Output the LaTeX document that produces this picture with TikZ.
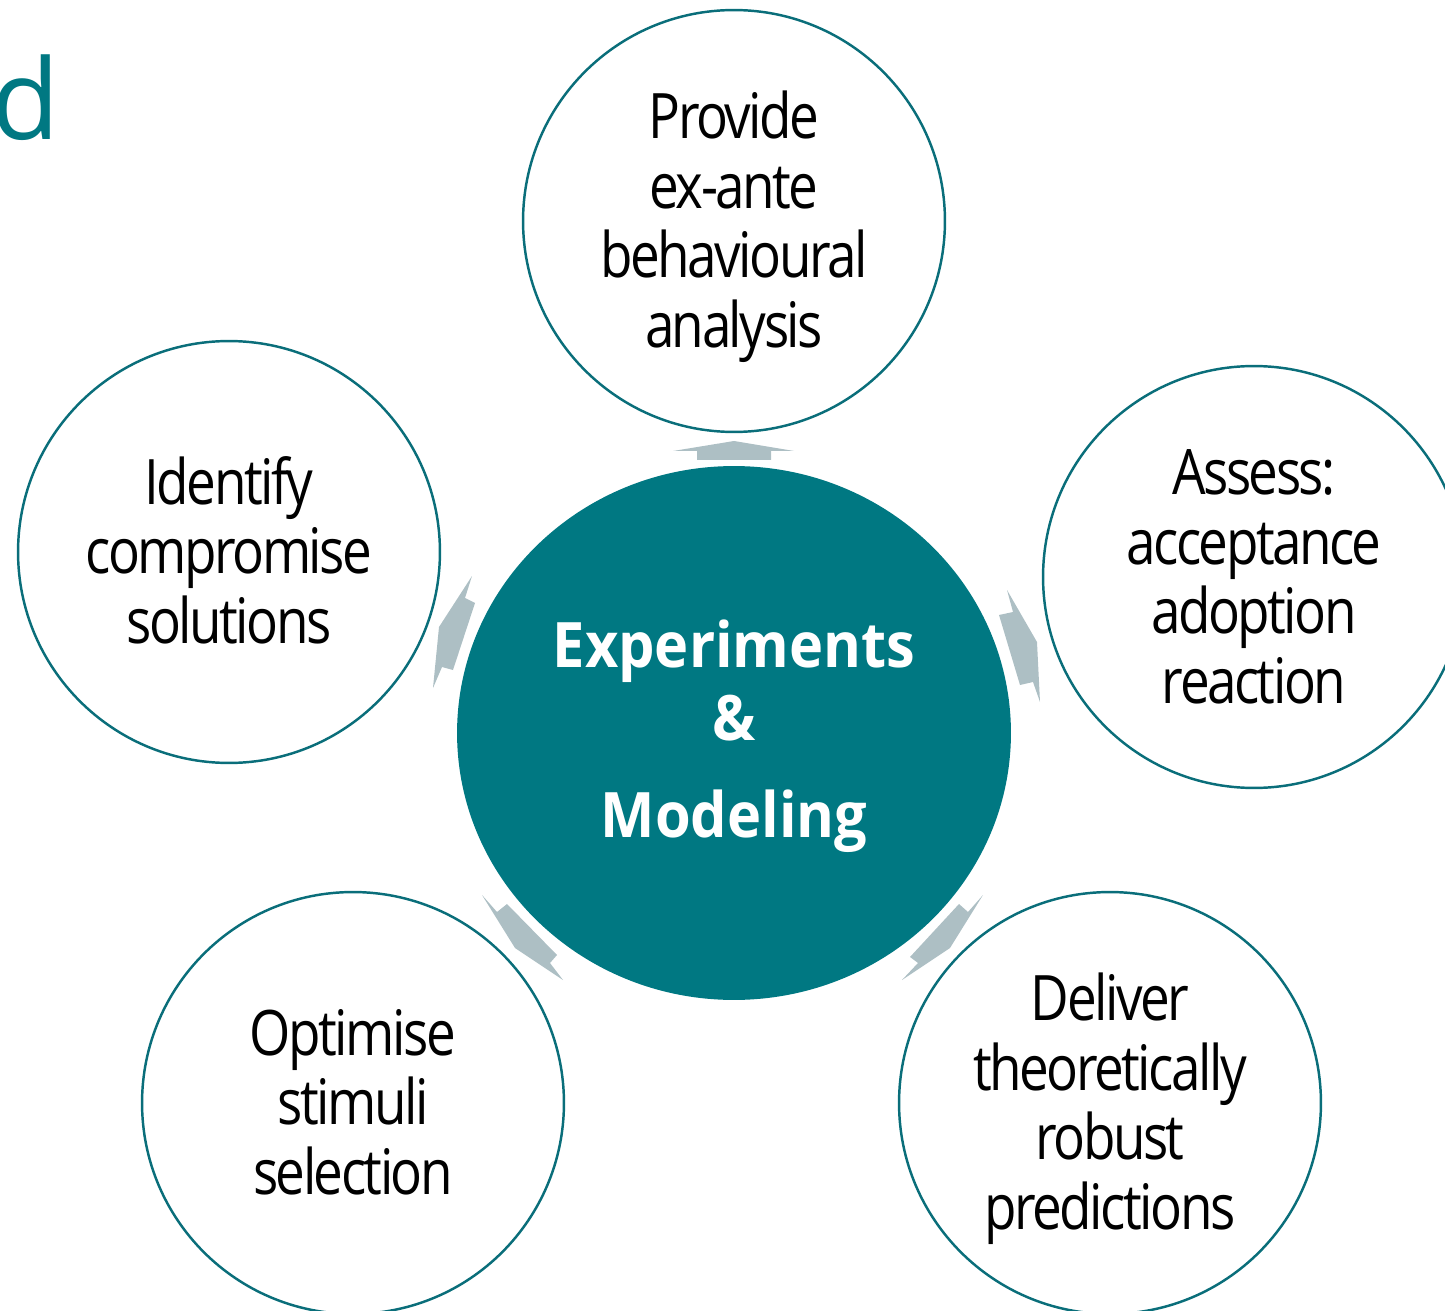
\documentclass[tikz,border=0pt]{standalone}
\usepackage{fontspec}
\setmainfont{Open Sans}
\newfontfamily\circfont[FakeStretch=0.845,LetterSpace=-4]{Open Sans}
\newfontfamily\corefont[FakeStretch=0.92]{Open Sans}
\usetikzlibrary{shapes.geometric}
\definecolor{tealA}{RGB}{0,120,130}
\definecolor{tealLine}{RGB}{10,110,122}
\definecolor{arrowgray}{RGB}{173,191,196}
\newcommand{\topstrut}{\rule{0pt}{1.2cm}}
\newcommand{\botstrut}{\rule[-0.32cm]{0pt}{0.32cm}}
\newcommand{\coretop}{\rule{0pt}{1.1cm}}
\newcommand{\corebot}{\rule[-0.32cm]{0pt}{0.32cm}}
\tikzset{
  outer/.style={circle, draw=tealLine, line width=1.4pt, fill=white,
    minimum size=8.44cm, inner sep=0pt, align=center, text=black,
    font=\circfont\fontsize{35.7}{39.8}\selectfont},
  core/.style={ellipse, fill=tealA, minimum width=11.08cm, minimum height=10.68cm,
    inner sep=0pt, align=center, text=white,
    font=\corefont\bfseries\fontsize{35.7}{41.5}\selectfont},
  flow/.style={fill=arrowgray, draw=none}
}
\begin{document}
\begin{tikzpicture}[x=0.02cm,y=-0.02cm]
\useasboundingbox (0,0) rectangle (1445,1311);
\clip (0,0) rectangle (1445,1311);
% title fragment
\node[anchor=base east, inner sep=0pt, text=tealA, font=\fontsize{63.5}{70}\selectfont] (title) at (60,140) {d};
% circles
\node[outer] (c1) at (734,221) {\topstrut Provide\\ex-ante\\behavioural\\analysis\botstrut};
\node[outer] (c2) at (1254,577) {\topstrut Assess:\\acceptance\\adoption\\reaction\botstrut};
\node[outer] (c3) at (1110,1103) {\topstrut Deliver\\theoretically\\robust\\predictions\botstrut};
\node[outer] (c4) at (353,1103) {\topstrut Optimise\\stimuli\\selection\botstrut};
\node[outer] (c5) at (229,552) {\topstrut Identify\\compromise\\solutions\botstrut};
% centre
\node[core] (hub) at (734,733) {\coretop Experiments\\\&\\[0.48cm]Modeling\corebot};
% arrows
\fill[flow] (697,460) -- (697,451) -- (673,451) -- (734,441) -- (794,451) -- (771,451) -- (771,460) -- cycle;
\fill[flow] (1007,590) -- (1037,642) -- (1040,702) -- (1033,682) -- (1020,685) -- (999,615) -- (1013,612) -- cycle;
\fill[flow] (472,576) -- (465,598) -- (475,603) -- (453,670) -- (442,667) -- (433,688) -- (439,627) -- cycle;
\fill[flow] (482,895) -- (497,912) -- (507,904) -- (557,955) -- (550,963) -- (563,980) -- (515,948) -- cycle;
\fill[flow] (983,895) -- (968,912) -- (959,904) -- (910,957) -- (918,963) -- (902,980) -- (950,948) -- cycle;
\end{tikzpicture}
\end{document}
